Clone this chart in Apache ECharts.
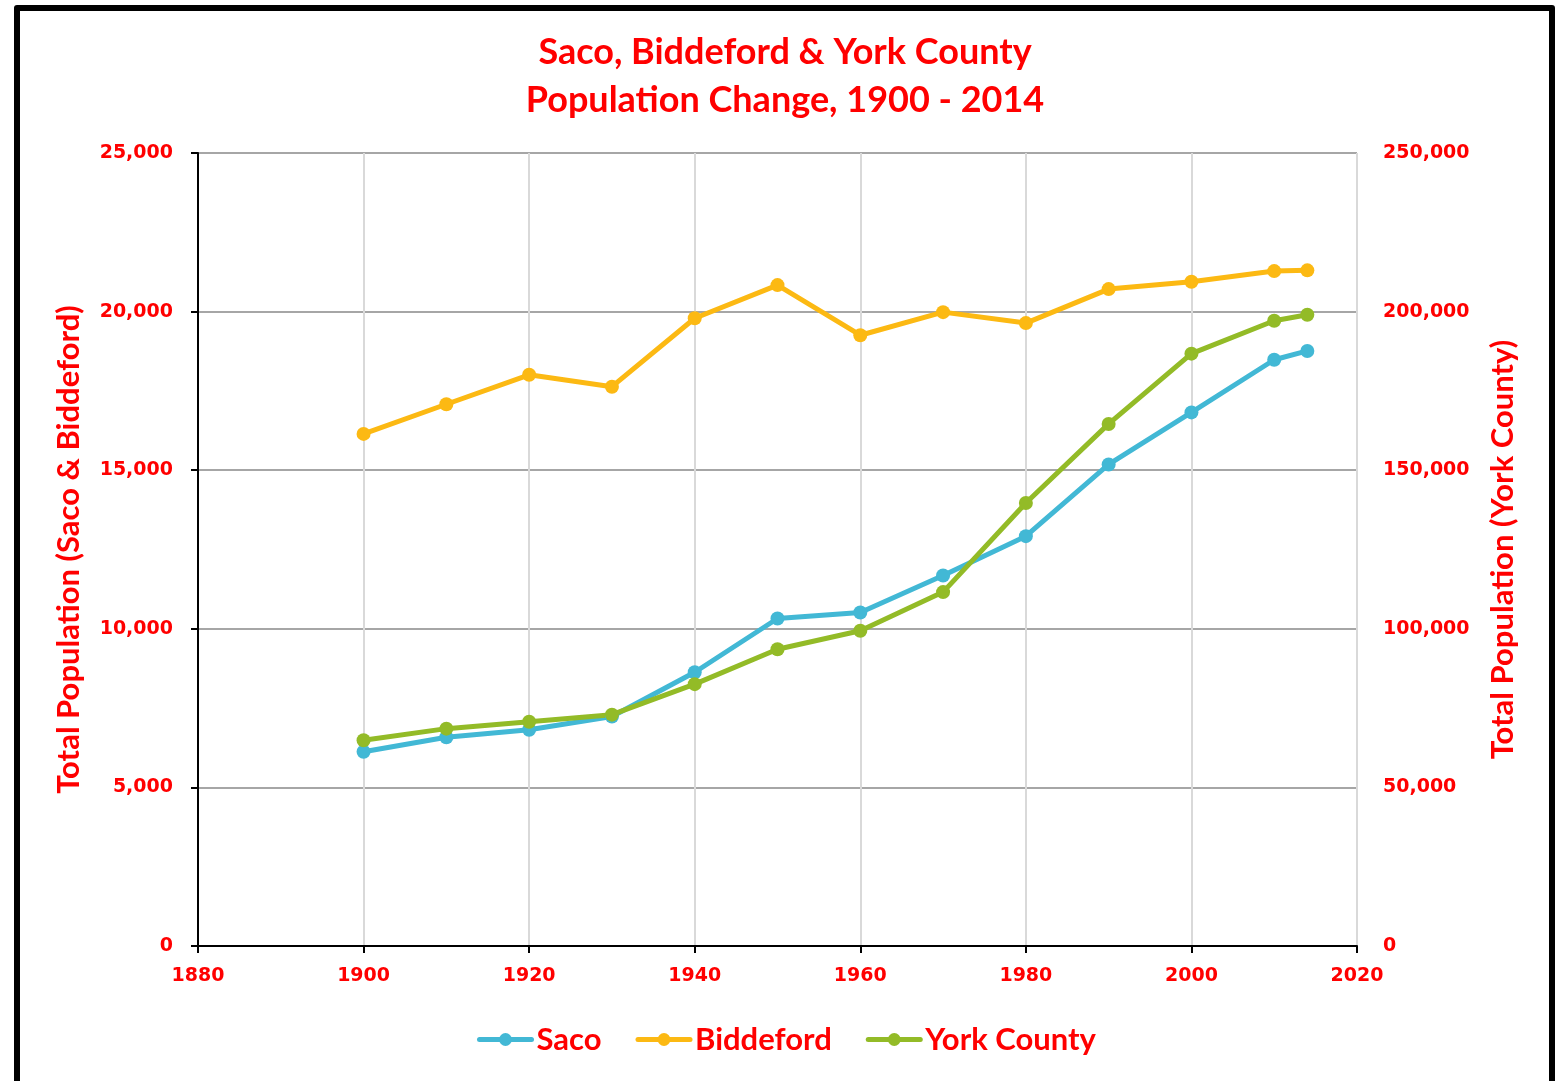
<!DOCTYPE html>
<html>
<head>
<meta charset="utf-8">
<script src="https://cdn.jsdelivr.net/npm/echarts@6/dist/echarts.min.js"></script>
<style>
html,body{margin:0;padding:0;background:#fff;}
#chart{width:1556px;height:1081px;}
</style>
</head>
<body>
<div id="chart"></div>
<script>
const years = [1900, 1910, 1920, 1930, 1940, 1950, 1960, 1970, 1980, 1990, 2000, 2010, 2014];
const saco = [6122, 6583, 6817, 7233, 8631, 10324, 10515, 11678, 12921, 15181, 16822, 18482, 18760];
const biddeford = [16145, 17079, 18008, 17633, 19790, 20836, 19255, 19983, 19638, 20710, 20942, 21277, 21300];
const yorkCounty = [64885, 68526, 70696, 72934, 82550, 93541, 99402, 111576, 139666, 164587, 186742, 197131, 199000];
const titleLines = ['Saco, Biddeford & York County', 'Population Change, 1900 - 2014'];
const seriesNames = ['Saco', 'Biddeford', 'York County'];
const leftAxisName = 'Total Population (Saco & Biddeford)';
const rightAxisName = 'Total Population (York County)';

const RED = '#ff0000';
const colors = ['#42b8d5', '#fcb913', '#93bb27'];
const tickFont = {color: RED, fontFamily: 'DejaVu Sans', fontWeight: 'bold', fontSize: 19};
const fmt = v => Math.round(v).toLocaleString('en-US');
const pairs = arr => years.map((y, i) => [y, arr[i]]);

const chart = echarts.init(document.getElementById('chart'), null, {renderer: 'canvas'});
const mkSeries = (name, data, color, yIdx) => ({
  name, type: 'line', yAxisIndex: yIdx, data: pairs(data),
  symbol: 'circle', symbolSize: 14, showSymbol: true,
  lineStyle: {color, width: 5}, itemStyle: {color},
  emphasis: {disabled: true}, animation: false, z: 3
});
chart.setOption({
  animation: false,
  backgroundColor: '#fff',
  title: {
    text: titleLines.join('\n'),
    left: 780, top: 23, textAlign: 'center',
    textStyle: {color: RED, fontFamily: 'Lato', fontWeight: 'bold', fontSize: 36, lineHeight: 48}
  },
  legend: {
    bottom: 21, left: 472,
    itemWidth: 52, itemHeight: 16, itemGap: 34,
    lineStyle: {width: 5, cap: 'round'},
    textStyle: {color: RED, fontFamily: 'Lato', fontWeight: 'bold', fontSize: 31},
    data: seriesNames
  },
  grid: {left: 198, right: 199, top: 153, bottom: 135, containLabel: false},
  xAxis: {
    type: 'value', min: 1880, max: 2020, interval: 20,
    axisLine: {lineStyle: {color: '#000', width: 2}},
    axisTick: {show: true, length: 7, lineStyle: {color: '#000', width: 2}},
    axisLabel: Object.assign({margin: 21, formatter: v => String(v)}, tickFont),
    splitLine: {show: true, lineStyle: {color: '#d9d9d9', width: 2}}
  },
  yAxis: [{
    type: 'value', min: 0, max: 25000, interval: 5000, position: 'left',
    name: leftAxisName, nameLocation: 'middle', nameGap: 114, nameRotate: 90,
    nameTextStyle: {color: RED, fontFamily: 'Lato', fontWeight: 'bold', fontSize: 31},
    axisLine: {show: true, lineStyle: {color: '#000', width: 2}},
    axisTick: {show: true, length: 7, lineStyle: {color: '#000', width: 2}},
    axisLabel: Object.assign({margin: 25, formatter: fmt}, tickFont),
    splitLine: {show: true, lineStyle: {color: '#a6a6a6', width: 2}}
  }, {
    type: 'value', min: 0, max: 250000, interval: 50000, position: 'right',
    name: rightAxisName, nameLocation: 'middle', nameGap: 130, nameRotate: 90,
    nameTextStyle: {color: RED, fontFamily: 'Lato', fontWeight: 'bold', fontSize: 31},
    axisLine: {show: false}, axisTick: {show: false},
    axisLabel: Object.assign({margin: 26, formatter: fmt}, tickFont),
    splitLine: {show: false}
  }],
  series: [
    mkSeries(seriesNames[0], saco, colors[0], 0),
    mkSeries(seriesNames[1], biddeford, colors[1], 0),
    mkSeries(seriesNames[2], yorkCounty, colors[2], 1)
  ],
  graphic: [{
    type: 'polyline', silent: true, z: 100,
    shape: {points: [[17, 1090], [17, 8], [1552, 8], [1552, 1090]]},
    style: {stroke: '#000', lineWidth: 6, fill: null, lineJoin: 'round'}
  }]
});
</script>
</body>
</html>
